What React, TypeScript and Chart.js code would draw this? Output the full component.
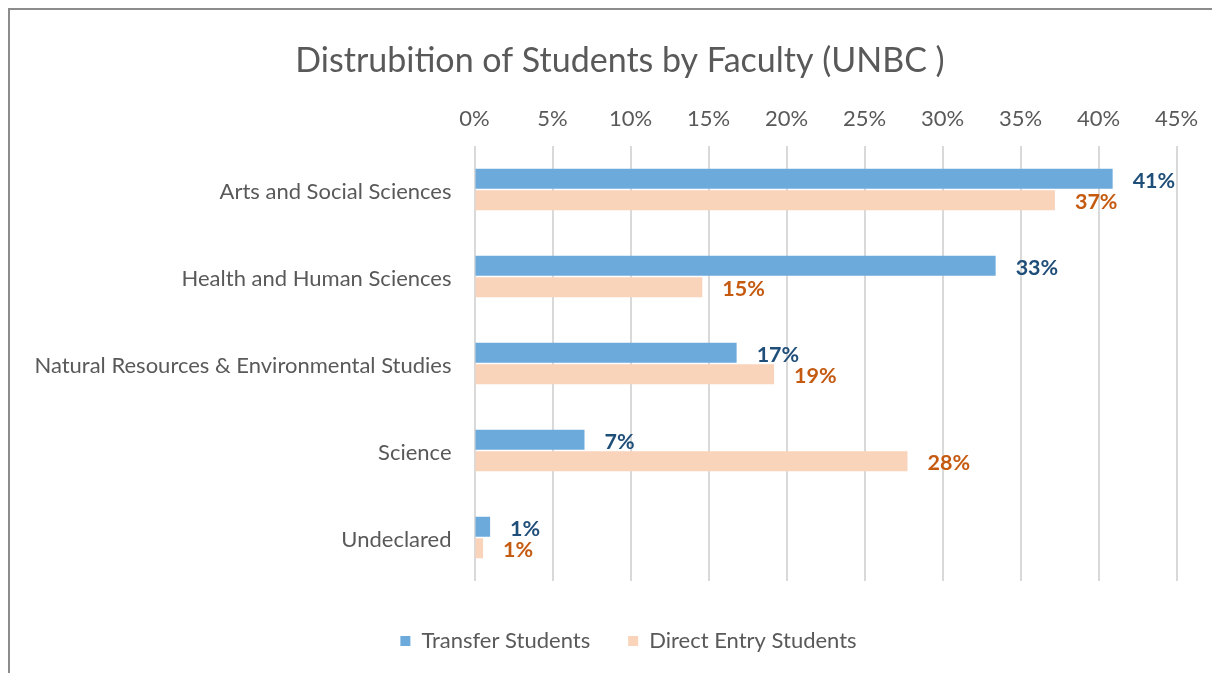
import { useEffect, useRef } from 'react';
import { Chart, registerables } from 'chart.js';

Chart.register(...registerables);

const categories = [
  'Arts and Social Sciences',
  'Health and Human Sciences',
  'Natural Resources & Environmental Studies',
  'Science',
  'Undeclared',
];
const seriesNames = ['Transfer Students', 'Direct Entry Students'];
const transferValues = [40.9, 33.4, 16.8, 7.05, 1.0];
const directValues = [37.2, 14.6, 19.2, 27.75, 0.55];
const xTickMax = 45;
const xTickStep = 5;
const titleText = 'Distrubition of Students by Faculty (UNBC )';

const FONT = 'Lato, "Open Sans", sans-serif';
const TEXT = '#595959';

const dataLabelPlugin = {
  id: 'dataLabels',
  afterDatasetsDraw(chart: any) {
    const ctx = chart.ctx;
    const colors = ['#1F4E79', '#C55A11'];
    ctx.save();
    ctx.font = `bold 21.5px ${FONT}`;
    ctx.textAlign = 'left';
    ctx.textBaseline = 'middle';
    chart.data.datasets.forEach((ds: any, di: number) => {
      const meta = chart.getDatasetMeta(di);
      meta.data.forEach((el: any, i: number) => {
        const v = ds.data[i];
        ctx.fillStyle = colors[di];
        ctx.fillText(`${Math.round(v)}%`, el.x + 20, el.y + 2);
      });
    });
    ctx.restore();
  },
};

const boxShiftPlugin = {
  id: 'boxShift',
  afterLayout(chart: any) {
    if (chart.legend) {
      chart.legend.left += 35;
      chart.legend.right += 35;
    }
    if (chart.titleBlock) {
      chart.titleBlock.left += 26.5;
      chart.titleBlock.right += 26.5;
    }
  },
};

export default function App() {
  const ref = useRef<HTMLCanvasElement>(null);
  useEffect(() => {
    if (!ref.current) return;
    const chart = new Chart(ref.current, {
      type: 'bar',
      data: {
        labels: categories,
        datasets: [
          {
            label: seriesNames[0],
            data: transferValues,
            backgroundColor: '#6CAADC',
            categoryPercentage: 0.494,
            barPercentage: 0.92,
            xAxisID: 'x',
          },
          {
            label: seriesNames[1],
            data: directValues,
            backgroundColor: '#F9D3BA',
            categoryPercentage: 0.494,
            barPercentage: 0.92,
            xAxisID: 'x',
          },
        ],
      },
      options: {
        indexAxis: 'y',
        responsive: false,
        animation: false,
        layout: { padding: { left: 0, right: 35, top: 0, bottom: 11 } },
        scales: {
          x: {
            type: 'linear',
            position: 'top',
            min: 0,
            max: xTickMax,
            grid: { color: '#D9D9D9', lineWidth: 2, drawTicks: false },
            border: { display: false },
            ticks: {
              stepSize: xTickStep,
              padding: 13.8,
              color: TEXT,
              font: { family: FONT, size: 22 },
              callback: (v: any) => `${v}%`,
            },
            afterFit: (s: any) => {
              s.height = 54.6;
            },
          },
          x2: {
            type: 'linear',
            position: 'bottom',
            display: true,
            grid: { display: false, drawTicks: false },
            border: { display: false },
            ticks: { display: false },
            afterFit: (s: any) => {
              s.height = 11;
            },
          },
          y: {
            grid: { display: false, drawTicks: false },
            border: { display: false },
            ticks: {
              padding: 23,
              labelOffset: 2,
              color: TEXT,
              font: { family: FONT, size: 22 },
            },
            afterFit: (s: any) => {
              s.width = 464.5;
            },
          },
        },
        plugins: {
          title: {
            display: true,
            text: titleText,
            color: TEXT,
            font: { family: FONT, size: 34, weight: 'normal' },
            padding: { top: 30.6, bottom: 10 },
          },
          legend: {
            position: 'bottom',
            labels: {
              boxWidth: 10,
              boxHeight: 10,
              padding: 38,
              color: TEXT,
              font: { family: FONT, size: 22 },
            },
          },
          tooltip: { enabled: false },
        },
      },
      plugins: [dataLabelPlugin, boxShiftPlugin],
    });
    return () => chart.destroy();
  }, []);

  return (
    <div
      style={{
        width: 1204,
        height: 665,
        borderTop: '2px solid #8C8C8C',
        borderLeft: '2px solid #8C8C8C',
        boxSizing: 'border-box',
        overflow: 'hidden',
        background: '#fff',
      }}
    >
      <canvas ref={ref} width={1202} height={663} style={{ display: 'block' }} />
    </div>
  );
}
